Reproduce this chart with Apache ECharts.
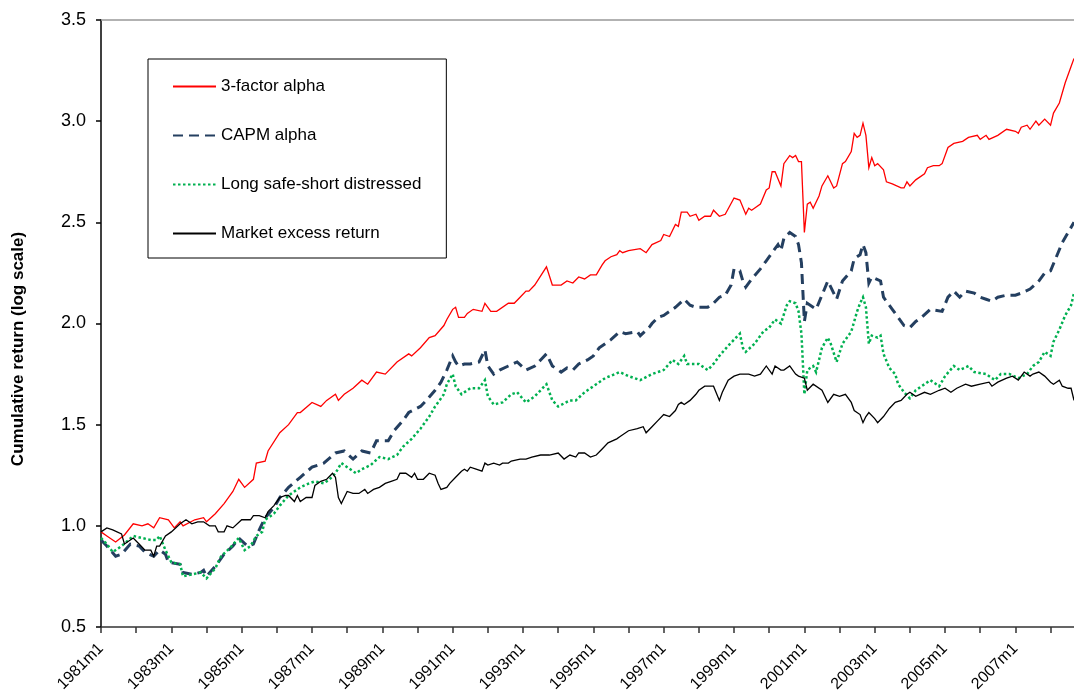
<!DOCTYPE html>
<html><head><meta charset="utf-8">
<script src="https://cdn.jsdelivr.net/npm/echarts@6/dist/echarts.min.js"></script>
<style>html,body{margin:0;padding:0;background:#fff}#c{width:1074px;height:694px}</style>
</head><body><div id="c"></div>
<script>
// ---- categories (monthly, 1981m1 .. 2008m9) ----
const firstYear = 1981, lastYear = 2008, lastMonth = 9;
const months = [];
for (let y = firstYear; y <= lastYear; y++) {
  for (let m = 1; m <= 12; m++) {
    if (y === lastYear && m > lastMonth) break;
    months.push(y + 'm' + m);
  }
}
const yMin = 0.5, yMax = 3.5, yStep = 0.5;
const seriesNames = ['3-factor alpha', 'CAPM alpha', 'Long safe-short distressed', 'Market excess return'];
const yAxisTitle = 'Cumulative return (log scale)';

// ---- series values: [month index, cumulative return] ----
const threeFactorAlpha = [[0,0.97],[2,0.95],[5,0.92],[8,0.955],[11,1.01],[14,1.00],[16,1.01],[18,0.99],[20,1.04],[23,1.03],[25,0.99],[27,1.02],[28,1.00],[32,1.03],[35,1.04],[36,1.02],[39,1.06],[42,1.11],[45,1.17],[47,1.23],[49,1.19],[52,1.23],[53,1.31],[56,1.32],[57,1.37],[61,1.46],[64,1.50],[67,1.56],[68,1.56],[72,1.61],[75,1.59],[77,1.62],[80,1.65],[81,1.62],[83,1.65],[86,1.68],[89,1.72],[91,1.70],[94,1.76],[97,1.75],[101,1.81],[105,1.85],[106,1.84],[109,1.88],[112,1.93],[114,1.94],[117,1.99],[118,2.02],[120,2.07],[121,2.08],[122,2.03],[124,2.03],[125,2.05],[127,2.07],[130,2.06],[131,2.10],[133,2.06],[135,2.06],[139,2.10],[141,2.10],[143,2.13],[145,2.16],[146,2.16],[148,2.19],[152,2.28],[154,2.19],[157,2.19],[159,2.21],[161,2.20],[163,2.23],[165,2.22],[167,2.24],[169,2.24],[171,2.29],[172,2.31],[174,2.33],[176,2.34],[177,2.36],[178,2.35],[180,2.36],[184,2.37],[186,2.35],[188,2.39],[191,2.41],[192,2.44],[194,2.43],[196,2.49],[197,2.48],[198,2.55],[200,2.55],[201,2.53],[203,2.54],[204,2.51],[206,2.53],[208,2.53],[209,2.56],[211,2.53],[213,2.54],[216,2.62],[218,2.61],[220,2.54],[221,2.57],[222,2.56],[225,2.59],[227,2.66],[228,2.67],[229,2.75],[230,2.75],[232,2.68],[233,2.79],[235,2.83],[236,2.82],[237,2.83],[238,2.80],[239,2.80],[240,2.45],[241,2.59],[242,2.60],[243,2.57],[245,2.63],[246,2.68],[248,2.73],[250,2.67],[251,2.68],[253,2.79],[254,2.80],[256,2.85],[257,2.94],[258,2.92],[259,2.93],[260,2.99],[261,2.93],[262,2.77],[263,2.82],[264,2.78],[265,2.79],[267,2.76],[268,2.70],[270,2.69],[273,2.67],[274,2.67],[275,2.70],[276,2.68],[278,2.71],[281,2.74],[282,2.77],[284,2.78],[286,2.78],[287,2.79],[289,2.87],[291,2.89],[294,2.90],[296,2.92],[299,2.93],[300,2.91],[302,2.93],[303,2.91],[306,2.93],[309,2.96],[312,2.95],[313,2.94],[314,2.97],[316,2.98],[317,2.96],[319,3.00],[320,2.98],[322,3.01],[324,2.98],[325,3.04],[327,3.09],[329,3.19],[331,3.27],[332,3.31]];

const capmAlpha = [[0,0.93],[2,0.90],[5,0.85],[7,0.86],[10,0.91],[13,0.90],[15,0.87],[18,0.85],[20,0.88],[22,0.86],[23,0.82],[27,0.81],[28,0.77],[31,0.76],[34,0.77],[35,0.78],[36,0.75],[39,0.80],[42,0.86],[45,0.90],[47,0.94],[50,0.90],[52,0.91],[54,0.98],[56,1.04],[59,1.09],[61,1.14],[64,1.19],[68,1.24],[72,1.29],[76,1.31],[80,1.36],[83,1.37],[86,1.33],[89,1.37],[92,1.36],[94,1.42],[96,1.42],[98,1.42],[100,1.47],[103,1.52],[105,1.56],[109,1.59],[111,1.62],[114,1.67],[116,1.71],[118,1.77],[120,1.84],[121,1.81],[122,1.79],[124,1.80],[126,1.80],[129,1.81],[131,1.87],[132,1.79],[134,1.75],[136,1.77],[139,1.79],[142,1.81],[145,1.77],[148,1.79],[150,1.82],[152,1.85],[154,1.79],[157,1.76],[159,1.78],[161,1.77],[163,1.80],[166,1.82],[168,1.84],[170,1.88],[174,1.92],[177,1.96],[179,1.95],[183,1.96],[184,1.94],[187,1.98],[188,2.00],[190,2.03],[192,2.04],[194,2.06],[196,2.08],[199,2.12],[201,2.09],[203,2.08],[207,2.08],[209,2.10],[211,2.13],[213,2.14],[215,2.19],[216,2.27],[218,2.26],[219,2.21],[220,2.18],[222,2.22],[225,2.27],[227,2.31],[229,2.35],[231,2.39],[232,2.36],[233,2.42],[235,2.45],[237,2.43],[238,2.39],[239,2.30],[240,2.01],[241,2.10],[244,2.07],[246,2.14],[248,2.21],[251,2.12],[253,2.21],[256,2.26],[257,2.32],[259,2.34],[260,2.39],[261,2.35],[262,2.20],[263,2.23],[266,2.21],[267,2.13],[270,2.07],[272,2.03],[274,1.99],[276,1.98],[278,2.01],[280,2.03],[283,2.07],[287,2.06],[289,2.13],[291,2.16],[293,2.13],[295,2.16],[298,2.15],[300,2.13],[302,2.12],[304,2.11],[306,2.13],[309,2.14],[312,2.14],[314,2.15],[317,2.17],[320,2.21],[322,2.25],[324,2.26],[326,2.33],[328,2.40],[330,2.45],[332,2.50]];

const longSafeShortDistressed = [[0,0.94],[2,0.91],[4,0.87],[7,0.90],[11,0.95],[14,0.94],[17,0.93],[19,0.93],[20,0.95],[22,0.88],[24,0.82],[27,0.81],[28,0.75],[31,0.76],[34,0.77],[36,0.74],[39,0.79],[41,0.85],[44,0.89],[47,0.94],[49,0.88],[51,0.90],[53,0.95],[55,0.97],[56,1.03],[59,1.06],[61,1.10],[64,1.15],[68,1.19],[71,1.21],[73,1.22],[76,1.21],[78,1.23],[80,1.26],[82,1.31],[84,1.29],[87,1.26],[89,1.28],[92,1.30],[95,1.34],[98,1.33],[101,1.35],[103,1.39],[106,1.43],[109,1.48],[112,1.54],[114,1.59],[117,1.65],[118,1.70],[120,1.75],[121,1.69],[123,1.65],[126,1.68],[129,1.68],[131,1.72],[132,1.64],[134,1.60],[137,1.61],[140,1.65],[142,1.66],[145,1.61],[148,1.64],[152,1.70],[154,1.62],[156,1.59],[160,1.62],[162,1.62],[165,1.66],[169,1.70],[172,1.73],[177,1.76],[180,1.74],[184,1.72],[188,1.75],[192,1.77],[195,1.82],[197,1.80],[199,1.84],[200,1.80],[204,1.80],[207,1.77],[209,1.80],[211,1.84],[214,1.89],[216,1.92],[218,1.95],[219,1.88],[220,1.86],[223,1.90],[226,1.96],[228,1.98],[230,2.02],[232,2.00],[234,2.09],[235,2.11],[237,2.10],[238,2.06],[239,1.95],[240,1.65],[241,1.77],[243,1.79],[244,1.76],[246,1.88],[248,1.93],[249,1.90],[251,1.81],[253,1.90],[254,1.92],[256,1.96],[258,2.06],[259,2.10],[260,2.13],[261,2.08],[262,1.90],[263,1.94],[265,1.93],[266,1.94],[267,1.85],[269,1.78],[271,1.75],[272,1.70],[274,1.66],[276,1.63],[278,1.67],[281,1.70],[283,1.72],[286,1.69],[288,1.74],[291,1.79],[293,1.77],[296,1.79],[298,1.76],[302,1.75],[305,1.72],[307,1.75],[310,1.75],[313,1.73],[316,1.75],[318,1.79],[320,1.81],[322,1.86],[324,1.84],[325,1.91],[327,1.97],[329,2.04],[331,2.09],[332,2.15]];

const marketExcessReturn = [[0,0.97],[2,0.99],[4,0.98],[7,0.96],[8,0.91],[11,0.94],[13,0.91],[15,0.88],[17,0.88],[18,0.85],[19,0.90],[20,0.90],[22,0.95],[24,0.97],[27,1.01],[29,1.03],[31,1.01],[33,1.02],[35,1.02],[37,1.00],[39,1.00],[40,0.97],[42,0.97],[43,1.00],[45,0.99],[48,1.03],[51,1.03],[52,1.05],[54,1.05],[56,1.04],[57,1.07],[59,1.10],[61,1.14],[63,1.15],[64,1.15],[66,1.12],[67,1.15],[68,1.12],[70,1.14],[72,1.14],[73,1.20],[75,1.22],[77,1.23],[79,1.26],[80,1.24],[81,1.14],[82,1.11],[84,1.17],[86,1.16],[88,1.16],[90,1.18],[91,1.16],[93,1.18],[95,1.19],[97,1.21],[99,1.22],[101,1.23],[102,1.26],[104,1.26],[106,1.24],[107,1.26],[108,1.23],[110,1.23],[112,1.26],[114,1.25],[115,1.21],[116,1.18],[118,1.19],[119,1.21],[121,1.24],[123,1.27],[124,1.28],[125,1.27],[126,1.29],[128,1.28],[130,1.27],[131,1.31],[132,1.30],[134,1.31],[136,1.30],[137,1.31],[139,1.31],[140,1.32],[143,1.33],[145,1.33],[147,1.34],[150,1.35],[151,1.35],[153,1.35],[156,1.36],[158,1.33],[160,1.35],[162,1.34],[163,1.36],[165,1.36],[167,1.34],[169,1.35],[171,1.38],[173,1.41],[176,1.43],[177,1.44],[180,1.47],[183,1.48],[185,1.49],[186,1.46],[188,1.49],[190,1.52],[192,1.55],[194,1.54],[196,1.57],[197,1.60],[198,1.61],[199,1.60],[201,1.62],[203,1.65],[204,1.67],[206,1.69],[208,1.69],[209,1.69],[211,1.62],[212,1.66],[214,1.72],[216,1.74],[218,1.75],[220,1.75],[221,1.75],[223,1.74],[225,1.75],[227,1.79],[229,1.75],[230,1.79],[232,1.77],[233,1.77],[235,1.79],[237,1.75],[238,1.74],[240,1.73],[241,1.67],[243,1.70],[246,1.67],[248,1.61],[250,1.65],[252,1.64],[254,1.65],[256,1.61],[257,1.57],[259,1.55],[260,1.51],[261,1.54],[262,1.56],[264,1.53],[265,1.51],[267,1.54],[269,1.58],[271,1.61],[273,1.62],[275,1.65],[276,1.66],[278,1.64],[281,1.66],[283,1.65],[286,1.67],[288,1.68],[290,1.66],[292,1.68],[295,1.70],[297,1.69],[300,1.70],[303,1.71],[304,1.69],[306,1.71],[309,1.73],[311,1.74],[313,1.72],[315,1.76],[317,1.74],[318,1.75],[320,1.76],[322,1.74],[324,1.71],[325,1.70],[327,1.72],[328,1.69],[330,1.68],[331,1.68],[332,1.62]];

const FONT = '"Liberation Sans", Arial, sans-serif';
const chart = echarts.init(document.getElementById('c'), null, {renderer: 'canvas'});

function lineSeries(name, data, color, width, type, z) {
  return {
    name, type: 'line', data, symbol: 'none', showSymbol: false, smooth: false,
    lineStyle: {color, width, type, cap: 'butt', join: 'miter'},
    itemStyle: {color}, z, animation: false
  };
}

chart.setOption({
  animation: false,
  backgroundColor: '#fff',
  textStyle: {fontFamily: FONT},
  grid: {left: 101, right: 0, top: 20, bottom: 67, containLabel: false, outerBoundsMode: 'none'},
  legend: {
    orient: 'vertical', left: 148, top: 59,
    padding: [19, 25, 16, 24], itemGap: 32, itemWidth: 43, itemHeight: 14,
    borderColor: '#000', borderWidth: 1, backgroundColor: '#fff',
    itemStyle: {color: 'rgba(0,0,0,0)', borderWidth: 0, opacity: 0},
    textStyle: {fontSize: 17, color: '#000', fontFamily: FONT},
    data: seriesNames, selectedMode: false
  },
  xAxis: [{
    type: 'category', data: months, boundaryGap: false,
    axisLine: {show: true, lineStyle: {color: '#333', width: 1.5}},
    axisTick: {show: true, inside: false, length: 6, interval: (i) => i % 12 === 0, lineStyle: {color: '#333', width: 1.5}},
    axisLabel: {show: true, interval: (i) => i % 24 === 0, rotate: 45, margin: 19, fontSize: 16, color: '#000', fontFamily: FONT},
    splitLine: {show: false}
  }, {
    type: 'category', data: months, boundaryGap: false, position: 'top',
    axisLine: {show: true, lineStyle: {color: '#999', width: 1.5}},
    axisTick: {show: false}, axisLabel: {show: false}, splitLine: {show: false}
  }],
  yAxis: {
    type: 'value', min: yMin, max: yMax, interval: yStep,
    axisLine: {show: true, lineStyle: {color: '#000', width: 1.5}},
    axisTick: {show: true, inside: false, length: 5, lineStyle: {color: '#000', width: 1.5}},
    axisLabel: {margin: 15, fontSize: 18, color: '#000', fontFamily: FONT, formatter: (v) => v.toFixed(1)},
    splitLine: {show: false}
  },
  graphic: [{
    type: 'text', x: 18, y: 349, rotation: Math.PI / 2,
    style: {text: yAxisTitle, textAlign: 'center', textVerticalAlign: 'middle',
      font: 'bold 17px ' + FONT, fill: '#000'}
  }],
  series: [
    lineSeries(seriesNames[0], threeFactorAlpha, '#FF0000', 1.3, 'solid', 3),
    lineSeries(seriesNames[1], capmAlpha, '#243F60', 3, [10, 6], 2),
    lineSeries(seriesNames[2], longSafeShortDistressed, '#00B050', 2.5, [2.5, 2.5], 4),
    lineSeries(seriesNames[3], marketExcessReturn, '#000000', 1.3, 'solid', 5)
  ]
});
</script>
</body></html>
